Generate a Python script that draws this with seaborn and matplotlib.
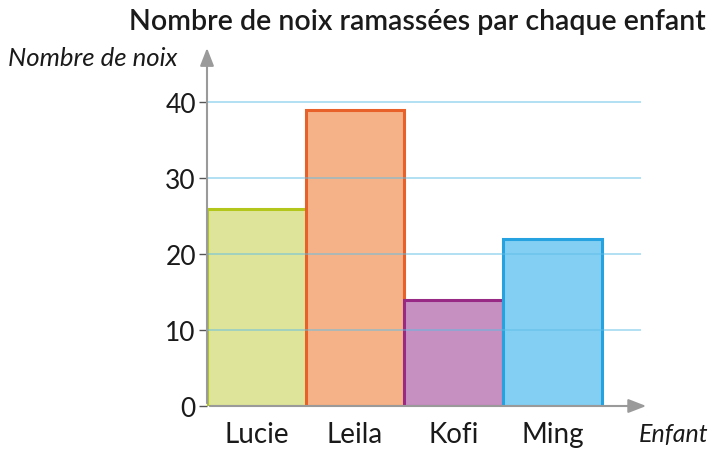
import pandas as pd
import matplotlib.pyplot as plt
import seaborn as sns

# Data
enfants = ["Lucie", "Leila", "Kofi", "Ming"]
noix = [26, 39, 14, 22]
fill_colors = ["#dfe49b", "#f5b288", "#c690c1", "#83cff3"]
edge_colors = ["#b3c61c", "#e8612b", "#982a86", "#26a2e1"]
y_ticks = [0, 10, 20, 30, 40]

df = pd.DataFrame({"enfant": enfants, "noix": noix})

sns.set_theme(style="white")
plt.rcParams["font.family"] = ["Lato", "DejaVu Sans"]

fig = plt.figure(figsize=(7.12, 4.52), dpi=100)
ax = fig.add_axes([207 / 712, 1 - 407 / 452, 440 / 712, (407 - 50) / 452])

sns.barplot(data=df, x="enfant", y="noix", hue="enfant", palette=fill_colors,
            saturation=1, width=1.0, legend=False, ax=ax, zorder=2)
for patch, ec in zip(ax.patches, edge_colors):
    patch.set_edgecolor(ec)
    patch.set_linewidth(2.2)

ax.set_xlim(-0.5, 3.96)
ax.set_ylim(0, 47)

# light blue grid lines drawn over the bars
ax.hlines(y_ticks[1:], -0.5, 3.9, colors="#5bbde6", linewidth=1.2, alpha=0.55, zorder=3)

# axes as grey arrows
arrow = dict(arrowstyle="-|>,head_width=0.35,head_length=0.9", color="#9a9a9a", lw=1.5)
ax.annotate("", xy=(-0.5, 47.5), xytext=(-0.5, 0), arrowprops=arrow, annotation_clip=False, zorder=4)
ax.annotate("", xy=(3.98, 0), xytext=(-0.5, 0), arrowprops=arrow, annotation_clip=False, zorder=4)
for s in ax.spines.values():
    s.set_visible(False)

ax.set_yticks(y_ticks)
ax.set_yticklabels([str(t) for t in y_ticks], fontsize=19, color="#1a1a1a")
ax.tick_params(axis="y", length=6, width=1, color="#555555", pad=2, left=True)
ax.tick_params(axis="x", length=0, pad=11, labelsize=20, labelcolor="#1a1a1a")
ax.set_xlabel("")
ax.set_ylabel("")

fig.text(706 / 712, 1 - 22 / 452, "Nombre de noix ramassées par chaque enfant",
         ha="right", va="center", fontsize=20.5, fontweight="semibold", color="#1a1a1a")
fig.text(8 / 712, 1 - 58 / 452, "Nombre de noix", ha="left", va="center",
         fontsize=18.5, style="italic", color="#1a1a1a")
fig.text(708 / 712, 1 - 435 / 452, "Enfant", ha="right", va="center",
         fontsize=18, style="italic", color="#1a1a1a")

fig.savefig("out.png", dpi=100)
